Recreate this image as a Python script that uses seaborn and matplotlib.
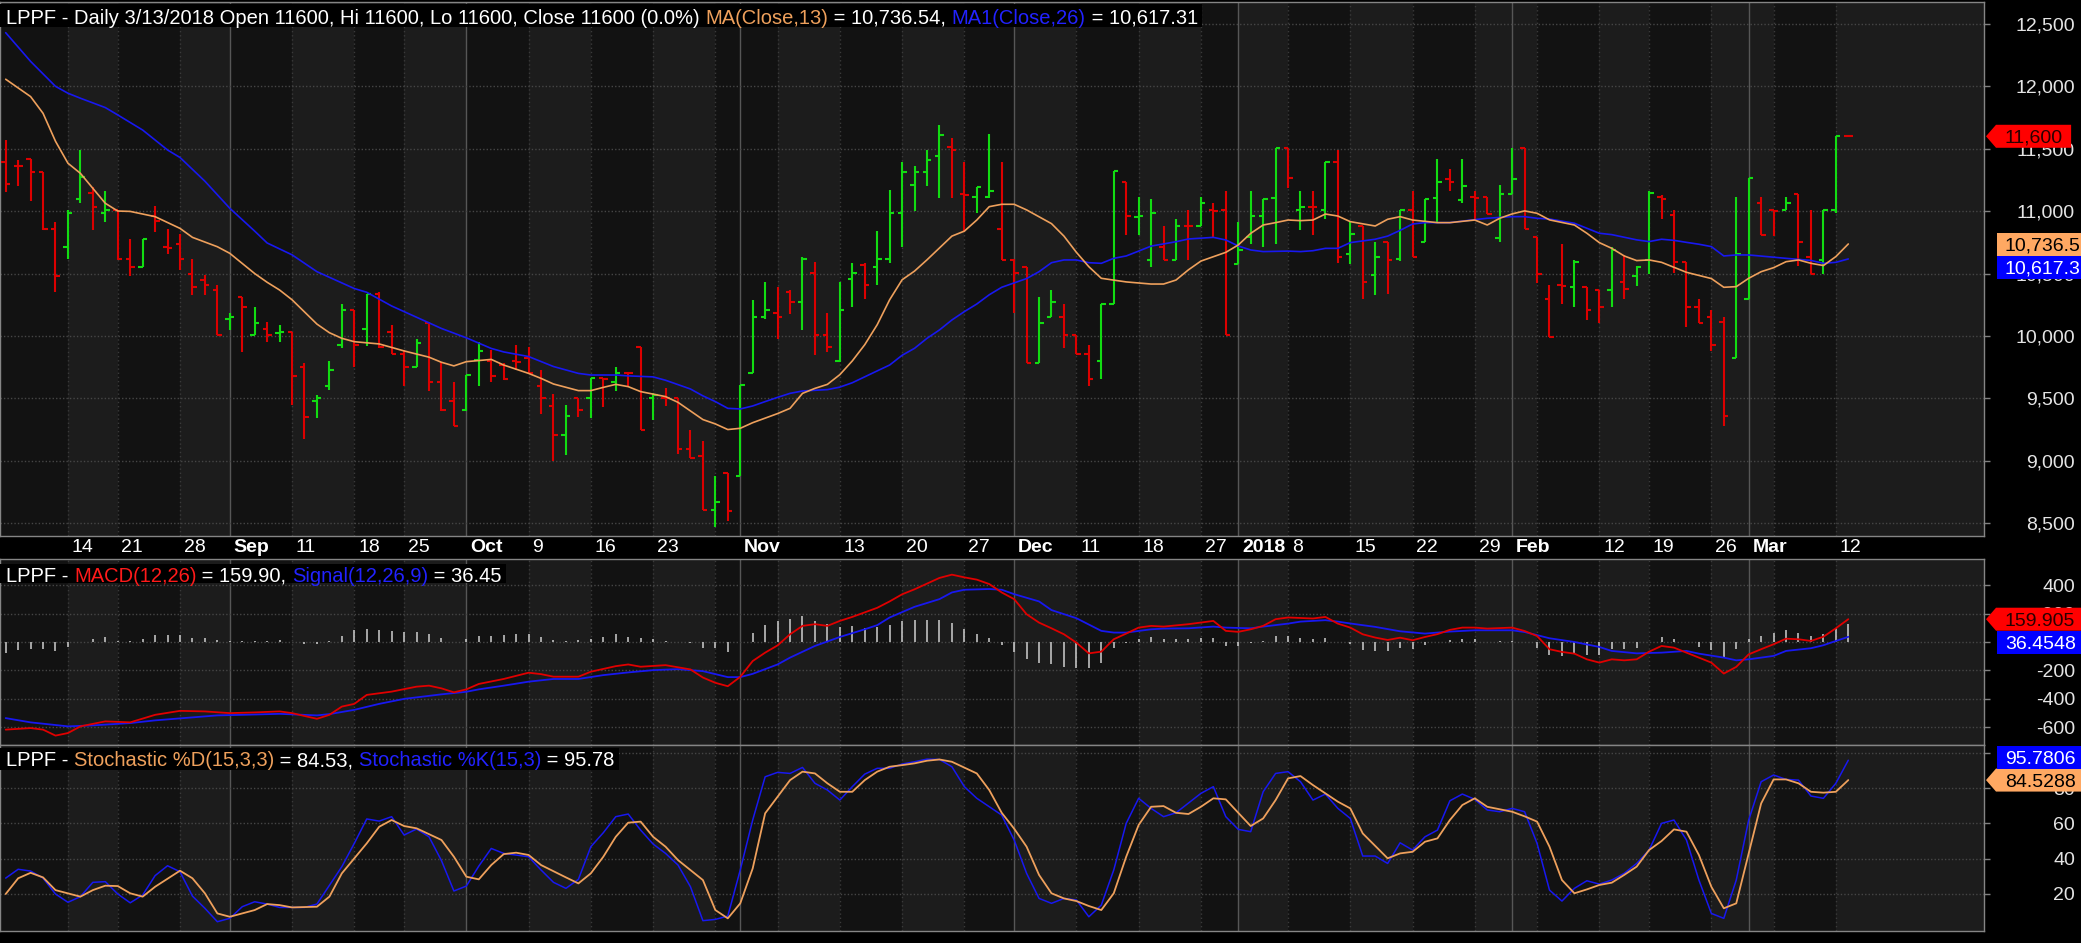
import matplotlib
matplotlib.use("Agg")
import matplotlib.pyplot as plt
import numpy as np
import pandas as pd
import seaborn as sns
from matplotlib.patches import Polygon, Rectangle
from matplotlib.ticker import FuncFormatter
from matplotlib.transforms import blended_transform_factory

# ---------------- data ----------------
holidays = pd.to_datetime(["2017-08-17", "2017-09-01", "2017-09-21", "2017-12-01",
                           "2017-12-25", "2017-12-26", "2018-01-01", "2018-02-16"])
dates = pd.bdate_range("2017-08-07", "2018-03-13")
dates = dates[~dates.isin(holidays)]

open_ = [11390, 11365, 11415, 11315, 10855, 10710, 11100, 11145, 10985, 11010,
         10615, 10555, 10965, 10710, 10735, 10500, 10450, 10365, 10135, 10310,
         10010, 10055, 10025, 10035, 9755, 9475, 9600, 9930, 10210, 10055,
         10335, 10035, 9855, 9755, 10105, 9630, 9475, 9405, 9805, 9800,
         9765, 9800, 9825, 9600, 9435, 9205, 9500, 9500, 9660, 9635,
         9705, 9910, 9500, 9505, 9500, 9095, 9035, 8605, 8900, 8875,
         9700, 10150, 10180, 10355, 10275, 10505, 10010, 9800, 10455, 10570,
         10555, 10615, 10985, 11210, 11315, 11440, 11515, 11135, 11110, 11110,
         10855, 10610, 10555, 9785, 10150, 10150, 10010, 9855, 9800, 10260,
         11235, 10955, 10610, 10715, 10610, 10885, 10885, 11010, 11010, 10580,
         10795, 10960, 11105, 11510, 11010, 11035, 11010, 11390, 10655, 10885,
         10485, 10750, 10620, 11010, 10755, 11105, 11260, 11090, 11110, 11110,
         10785, 11135, 11510, 10790, 10300, 10410, 10390, 10390, 10365, 10365,
         10435, 10480, 10610, 11115, 10970, 10590, 10235, 10155, 10115, 9825,
         10300, 11065, 11010, 11010, 11135, 10630, 10610, 11010, 11600]
high = [11570, 11410, 11415, 11315, 10915, 11010, 11490, 11195, 11165, 11010,
        10780, 10780, 11040, 10855, 10820, 10615, 10485, 10410, 10180, 10310,
        10235, 10110, 10085, 10035, 9780, 9525, 9800, 10260, 10210, 10335,
        10355, 10085, 9890, 9975, 10115, 9795, 9630, 9685, 9955, 9890,
        9780, 9930, 9915, 9725, 9535, 9445, 9500, 9660, 9660, 9755,
        9705, 9910, 9540, 9580, 9500, 9250, 9155, 8875, 8900, 9605,
        10285, 10435, 10390, 10365, 10630, 10590, 10180, 10435, 10585, 10585,
        10845, 11170, 11390, 11360, 11490, 11690, 11585, 11395, 11190, 11620,
        11390, 10615, 10555, 10310, 10365, 10260, 10010, 9930, 10260, 11325,
        11235, 11110, 11095, 10885, 10935, 11010, 11110, 11065, 11160, 10915,
        11160, 11095, 11510, 11510, 11165, 11165, 11395, 11490, 10910, 10885,
        10750, 10750, 11010, 11165, 11095, 11415, 11335, 11415, 11165, 11110,
        11210, 11510, 11510, 10790, 10410, 10740, 10610, 10390, 10365, 10710,
        10650, 10560, 11165, 11130, 11010, 10590, 10300, 10205, 10150, 11110,
        11265, 11110, 11010, 11110, 11135, 11010, 11010, 11600, 11600]
low = [11155, 11205, 11085, 10850, 10355, 10620, 11065, 10850, 10910, 10610,
       10480, 10555, 10835, 10655, 10530, 10330, 10330, 10010, 10050, 9875,
       10010, 9950, 9950, 9445, 9175, 9345, 9570, 9905, 9755, 9920,
       9905, 9855, 9595, 9755, 9560, 9400, 9275, 9400, 9600, 9630,
       9650, 9725, 9705, 9375, 8995, 9050, 9350, 9345, 9430, 9555,
       9595, 9245, 9325, 9435, 9055, 9020, 8605, 8470, 8520, 8875,
       9700, 10135, 9975, 10175, 10050, 9845, 9875, 9795, 10230, 10300,
       10405, 10585, 10710, 11005, 11200, 11105, 11105, 10835, 10985, 11105,
       10610, 10180, 9780, 9785, 10150, 9905, 9855, 9600, 9655, 10260,
       10810, 10810, 10555, 10610, 10610, 10610, 10885, 10790, 10010, 10580,
       10735, 10715, 10735, 11185, 10850, 10810, 10935, 10585, 10580, 10300,
       10330, 10340, 10600, 10630, 10755, 10910, 11165, 11065, 10925, 10980,
       10750, 11135, 10855, 10425, 9990, 10255, 10230, 10130, 10100, 10230,
       10300, 10400, 10500, 10935, 10505, 10075, 10105, 9880, 9275, 9825,
       10300, 10810, 10800, 11010, 10560, 10500, 10500, 10985, 11600]
close = [11215, 11360, 11315, 10855, 10480, 10985, 11270, 11035, 11010, 10615,
         10555, 10780, 10925, 10705, 10615, 10390, 10410, 10010, 10155, 10235,
         10105, 10010, 10035, 9680, 9350, 9500, 9725, 10210, 9930, 10335,
         9915, 9855, 9755, 9945, 9630, 9405, 9280, 9685, 9880, 9680,
         9655, 9795, 9705, 9500, 9205, 9355, 9405, 9660, 9655, 9705,
         9700, 9245, 9525, 9500, 9095, 9025, 8605, 8670, 8600, 9605,
         10150, 10210, 10150, 10275, 10615, 10010, 9910, 10210, 10505, 10405,
         10615, 10985, 11315, 11315, 11410, 11610, 11490, 11130, 11190, 11165,
         10610, 10505, 9785, 10105, 10275, 10010, 9855, 9655, 10260, 11325,
         10960, 10960, 10985, 10610, 10885, 10880, 11065, 11005, 10010, 10690,
         10960, 11095, 11510, 11265, 11035, 11030, 11390, 10630, 10815, 10435,
         10630, 10610, 11010, 10630, 11095, 11235, 11235, 11205, 11105, 10980,
         11135, 11260, 10855, 10500, 9990, 10400, 10590, 10210, 10235, 10690,
         10380, 10555, 11145, 11095, 10590, 10235, 10105, 9930, 9355, 10655,
         11265, 10810, 11005, 11065, 10755, 10500, 11010, 11600, 11600]

# moving averages as (bar, value) points
ma13 = [(0, 12057), (2, 11918), (3, 11784), (4, 11560), (5, 11384), (6, 11303), (8, 11063),
        (9, 11001), (10, 10998), (12, 10956), (14, 10862), (15, 10790), (17, 10715), (18, 10662),
        (20, 10500), (21, 10430), (22, 10368), (23, 10290), (25, 10095), (26, 10026), (27, 9981),
        (28, 9954), (30, 9936), (32, 9880), (34, 9830), (35, 9789), (36, 9760), (37, 9794),
        (39, 9812), (40, 9767), (42, 9700), (43, 9660), (44, 9615), (46, 9562), (47, 9562),
        (48, 9588), (49, 9612), (50, 9594), (51, 9554), (53, 9514), (54, 9468), (56, 9330),
        (57, 9295), (58, 9250), (59, 9260), (60, 9305), (62, 9378), (63, 9420), (64, 9540),
        (65, 9580), (66, 9612), (67, 9690), (68, 9800), (69, 9930), (70, 10090), (71, 10290),
        (72, 10450), (73, 10520), (74, 10610), (76, 10800), (77, 10840), (78, 10929), (79, 11036),
        (80, 11055), (81, 11055), (82, 11010), (84, 10900), (85, 10800), (86, 10670), (87, 10555),
        (88, 10462), (90, 10433), (92, 10416), (93, 10416), (94, 10448), (95, 10530), (96, 10600),
        (98, 10670), (99, 10729), (100, 10822), (101, 10889), (102, 10908), (103, 10929),
        (104, 10924), (105, 10929), (106, 10977), (107, 10961), (108, 10916), (110, 10881),
        (111, 10935), (112, 10956), (113, 10929), (115, 10908), (116, 10908), (118, 10929),
        (119, 10889), (120, 10943), (121, 10978), (122, 11002), (123, 10983), (124, 10930),
        (126, 10889), (127, 10823), (128, 10748), (129, 10702), (130, 10641), (131, 10604),
        (132, 10609), (133, 10590), (134, 10550), (135, 10510), (137, 10460), (138, 10390),
        (139, 10395), (140, 10462), (141, 10515), (142, 10547), (143, 10595), (144, 10609),
        (145, 10582), (146, 10564), (147, 10636), (148, 10737)]
ma26 = [(0, 12430), (2, 12200), (4, 12000), (5, 11945), (6, 11905), (8, 11830), (9, 11771),
        (11, 11650), (13, 11490), (14, 11430), (16, 11240), (18, 11023), (20, 10840), (21, 10745),
        (23, 10650), (25, 10515), (28, 10380), (29, 10350), (31, 10240), (34, 10105), (35, 10060),
        (37, 9985), (39, 9900), (40, 9872), (42, 9835), (44, 9755), (46, 9700), (47, 9687),
        (49, 9687), (50, 9680), (52, 9672), (53, 9645), (54, 9610), (55, 9575), (56, 9520),
        (57, 9474), (58, 9420), (59, 9415), (60, 9439), (61, 9474), (62, 9508), (63, 9540),
        (64, 9559), (66, 9570), (67, 9590), (68, 9625), (70, 9720), (71, 9767), (72, 9845),
        (73, 9901), (74, 9981), (75, 10048), (76, 10128), (77, 10195), (78, 10256), (79, 10330),
        (80, 10390), (82, 10460), (83, 10515), (84, 10587), (85, 10609), (86, 10609), (87, 10587),
        (88, 10582), (89, 10622), (90, 10641), (91, 10680), (92, 10720), (94, 10755), (95, 10777),
        (97, 10790), (98, 10769), (99, 10721), (100, 10689), (101, 10676), (103, 10680),
        (104, 10676), (105, 10683), (106, 10702), (107, 10702), (108, 10748), (110, 10775),
        (111, 10800), (112, 10846), (113, 10897), (114, 10908), (116, 10908), (118, 10932),
        (119, 10943), (120, 10950), (121, 10956), (122, 10956), (123, 10943), (124, 10937),
        (126, 10903), (127, 10863), (128, 10823), (129, 10812), (131, 10770), (132, 10756),
        (133, 10775), (134, 10766), (135, 10750), (136, 10735), (137, 10716), (138, 10641),
        (139, 10649), (140, 10649), (141, 10640), (143, 10622), (145, 10605), (146, 10582),
        (147, 10590), (148, 10617)]

macd = [(0, -616), (2, -605), (3, -616), (4, -658), (5, -640), (6, -593), (8, -558), (10, -565),
        (12, -512), (14, -484), (16, -488), (18, -500), (20, -495), (22, -488), (23, -500),
        (25, -540), (26, -512), (27, -454), (28, -435), (29, -372), (31, -349), (33, -314),
        (34, -307), (35, -326), (36, -354), (37, -333), (38, -295), (40, -260), (42, -216),
        (43, -226), (44, -244), (46, -244), (47, -209), (49, -170), (50, -158), (51, -174),
        (53, -163), (54, -178), (55, -193), (56, -250), (57, -287), (58, -311), (59, -245),
        (60, -134), (61, -75), (62, -24), (63, 54), (64, 113), (65, 125), (66, 113), (67, 148),
        (68, 176), (70, 240), (71, 285), (72, 335), (73, 370), (75, 450), (76, 473), (77, 454),
        (78, 438), (79, 407), (80, 348), (81, 301), (82, 195), (83, 136), (84, 96), (85, 54),
        (86, -5), (87, -80), (88, -68), (89, 19), (90, 59), (91, 101), (92, 113), (93, 108),
        (95, 125), (97, 148), (98, 78), (99, 71), (100, 89), (101, 113), (102, 160), (103, 172),
        (105, 165), (106, 176), (107, 129), (108, 101), (109, 54), (110, 31), (111, 14), (112, 30),
        (113, 12), (114, 35), (115, 55), (116, 85), (117, 101), (118, 101), (119, 94), (121, 101),
        (122, 77), (123, 42), (124, -51), (125, -70), (126, -82), (127, -122), (128, -145),
        (129, -122), (130, -129), (131, -122), (132, -68), (133, -28), (134, -40), (135, -75),
        (136, -110), (137, -145), (138, -222), (139, -175), (140, -87), (141, -51), (142, -16),
        (143, 23), (144, 19), (145, 7), (146, 37), (147, 96), (148, 160)]
signal = [(0, -535), (2, -565), (5, -593), (7, -586), (10, -570), (12, -551), (15, -530),
          (17, -516), (19, -512), (22, -505), (25, -516), (26, -507), (28, -477), (30, -435),
          (32, -400), (35, -368), (37, -350), (38, -333), (40, -307), (42, -279), (44, -260),
          (46, -260), (48, -233), (50, -214), (52, -198), (54, -191), (56, -205), (58, -247),
          (59, -247), (60, -224), (62, -158), (63, -110), (65, -28), (67, 35), (69, 89), (70, 118),
          (71, 172), (73, 247), (75, 301), (76, 348), (77, 367), (79, 372), (80, 367), (81, 336),
          (83, 285), (84, 224), (86, 167), (88, 78), (89, 66), (90, 66), (92, 89), (93, 94),
          (95, 96), (97, 108), (98, 101), (100, 96), (101, 108), (103, 129), (104, 143), (106, 153),
          (107, 143), (108, 130), (110, 106), (112, 75), (114, 59), (116, 73), (118, 82), (120, 82),
          (121, 82), (122, 70), (124, 26), (126, 0), (128, -35), (129, -63), (131, -80), (133, -75),
          (135, -63), (136, -82), (138, -110), (139, -129), (140, -122), (142, -98), (143, -63),
          (145, -44), (146, -23), (147, 7), (148, 36)]
macd_hist = [-81, -53, -47, -47, -63, -35, 0, 23, 35, 5, 5, 23, 47, 47, 47, 30, 30, 12, 5, 7,
             7, 7, 12, 0, -16, -12, 5, 40, 81, 93, 86, 74, 70, 70, 53, 30, 0, 23, 40, 42,
             51, 58, 53, 35, 12, 7, 12, 23, 35, 53, 35, 28, 23, 5, 0, -5, -40, -40, -68, 0,
             66, 120, 148, 160, 184, 148, 125, 106, 113, 101, 106, 120, 148, 153, 153, 153, 136, 89, 59, 26,
             -21, -68, -122, -146, -158, -174, -181, -186, -146, -45, -5, 19, 35, 19, 19, 19, 26, 26, -28, -28,
             -5, 7, 42, 42, 26, 19, 26, 0, -16, -59, -64, -64, -40, -51, -23, 0, 12, 23, 23, 0,
             7, 7, 0, -44, -91, -98, -82, -91, -91, -51, -51, -40, 0, 35, 19, 0, -35, -59, -105, -51,
             19, 42, 66, 82, 66, 42, 59, 101, 123]

stoch_k = [(0, 29), (1, 34), (2, 33), (3, 29), (4, 20), (5, 15.3), (6, 18.5), (7, 26.6), (8, 27),
           (9, 20), (10, 15), (11, 19.4), (12, 30.4), (13, 36), (14, 32.6), (15, 18.8), (16, 11.9),
           (17, 4.3), (18, 6.2), (19, 12.8), (20, 15.6), (21, 14.3), (22, 12.4), (23, 12.4),
           (24, 12.4), (25, 14.3), (27, 35.5), (28, 48.7), (29, 62.5), (30, 61.3), (31, 63.8),
           (32, 53.4), (33, 56.8), (34, 52.4), (35, 38.9), (36, 21.7), (37, 24.5), (38, 35.8),
           (39, 45.8), (40, 43), (42, 41.1), (43, 33.6), (44, 26.6), (45, 23.2), (46, 28.3),
           (47, 46.8), (48, 54.7), (49, 63.8), (50, 65.3), (51, 56.2), (52, 48.3), (53, 43),
           (54, 36.4), (55, 24.1), (56, 4.9), (57, 5.6), (58, 7.5), (59, 33.6), (60, 61.9),
           (61, 86.4), (62, 88.9), (63, 88.3), (64, 91.7), (65, 82.7), (66, 78.9), (67, 73.2),
           (68, 80.8), (69, 87.9), (70, 91.2), (71, 91.2), (72, 93.6), (73, 94.9), (74, 96.4),
           (75, 96.2), (76, 92.1), (77, 80.8), (78, 74.2), (80, 64.7), (81, 50.6), (82, 31.7),
           (83, 17.5), (84, 14.7), (85, 17.5), (86, 16.6), (87, 7.1), (88, 13.7), (89, 33.6),
           (90, 60), (91, 74.2), (92, 68.5), (93, 63.8), (94, 66), (96, 77), (97, 80.8), (98, 63.8),
           (99, 56.6), (100, 55.3), (101, 77.9), (102, 88.3), (103, 89.3), (104, 83.6), (105, 73.2),
           (106, 76.6), (107, 68.5), (108, 62.8), (109, 41.5), (110, 41.5), (111, 37.3), (112, 49),
           (113, 44.9), (114, 52.4), (115, 56.2), (116, 72.8), (117, 76.6), (118, 73.6), (119, 67.6),
           (120, 66.6), (121, 68.5), (122, 66.6), (123, 48.7), (124, 22.2), (125, 16), (126, 23.2),
           (127, 27.5), (128, 25.6), (129, 27.9), (130, 31.7), (131, 37.3), (132, 44.9), (133, 60),
           (134, 61.9), (135, 50.6), (136, 27.9), (137, 9), (138, 6.2), (139, 27.9), (140, 61.9),
           (141, 83.6), (142, 87.4), (143, 84.9), (144, 84.5), (145, 75.5), (146, 74.2), (147, 82.7),
           (148, 95.78)]
stoch_d = [(0, 20), (1, 28.9), (2, 32), (3, 29.4), (4, 22.2), (6, 18.5), (7, 22.2), (8, 24.7),
           (9, 24.5), (10, 20.4), (11, 18.5), (12, 24.1), (14, 33.2), (15, 28.9), (16, 20.4), (17, 9),
           (18, 7.1), (20, 10.9), (21, 14.3), (22, 13.7), (23, 12.4), (25, 12.8), (26, 18.5),
           (27, 31.7), (29, 48.7), (30, 58.1), (31, 61.9), (32, 58.5), (33, 57.2), (35, 50.6),
           (36, 41.1), (37, 29.8), (38, 28.3), (39, 36.4), (40, 42.6), (41, 43.4), (42, 42.1),
           (43, 36.4), (45, 29.4), (46, 26), (47, 31.7), (48, 41.1), (49, 52.4), (50, 60.4), (51, 61),
           (52, 52.4), (53, 46.8), (54, 39.2), (56, 27.9), (57, 10.9), (58, 6.2), (59, 14.7),
           (60, 34.5), (61, 65.7), (63, 84.5), (64, 89.3), (65, 88.3), (66, 82.7), (67, 77.9),
           (68, 77.9), (69, 84.5), (70, 89.3), (71, 92.1), (72, 93), (73, 94), (74, 95.5), (75, 96.2),
           (76, 94.9), (78, 88.3), (79, 78.9), (80, 66), (81, 57), (82, 46.8), (83, 30.8), (84, 20.4),
           (85, 17.5), (86, 16), (87, 13.2), (88, 10.9), (89, 20.4), (90, 41.1), (91, 59.1),
           (92, 69.4), (93, 69.8), (94, 66), (95, 65.3), (96, 69.4), (97, 74.2), (98, 73.6), (99, 66),
           (100, 58.5), (101, 62.8), (102, 73.2), (103, 85.5), (104, 86.8), (105, 81.7), (106, 77),
           (107, 72.3), (108, 68.5), (109, 54.3), (111, 40.2), (112, 43), (113, 43.9), (114, 49.6),
           (115, 51.5), (116, 61.9), (117, 70.4), (118, 74.2), (119, 69.4), (120, 68), (121, 66.6),
           (122, 64), (123, 61), (124, 46.8), (125, 27.9), (126, 20.4), (127, 22.6), (128, 25.1),
           (129, 26.4), (130, 30.8), (131, 35.5), (132, 44.9), (133, 50), (134, 56.6), (135, 55.3),
           (136, 42.1), (137, 24.1), (138, 11.9), (139, 14.7), (140, 43), (141, 71.3), (142, 84.9),
           (143, 84.9), (144, 82.7), (145, 77.9), (146, 77.4), (147, 77.9), (148, 84.53)]

label_dates = ["2017-08-14", "2017-08-21", "2017-08-28", "2017-09-04", "2017-09-11", "2017-09-18",
               "2017-09-25", "2017-10-02", "2017-10-09", "2017-10-16", "2017-10-23", "2017-11-01",
               "2017-11-13", "2017-11-20", "2017-11-27", "2017-12-04", "2017-12-11", "2017-12-18",
               "2017-12-27", "2018-01-02", "2018-01-08", "2018-01-15", "2018-01-22", "2018-01-29",
               "2018-02-01", "2018-02-12", "2018-02-19", "2018-02-26", "2018-03-01", "2018-03-12"]
label_text = ["14", "21", "28", "Sep", "11", "18", "25", "Oct", "9", "16", "23", "Nov", "13", "20",
              "27", "Dec", "11", "18", "27", "2018", "8", "15", "22", "29", "Feb", "12", "19", "26",
              "Mar", "12"]

price_ticks = [8500, 9000, 9500, 10000, 10500, 11000, 11500, 12000, 12500]
macd_ticks = [-600, -400, -200, 0, 200, 400]
stoch_ticks = [20, 40, 60, 80, 100]
hidden_ticks = [0, 100]   # labels fully covered by value tags in the original

# ---------------- style ----------------
sns.set_style("dark")
FONT = ["Liberation Sans", "DejaVu Sans"]
plt.rcParams["font.family"] = FONT

UP, DOWN = "#12dc12", "#dc0000"
ORANGE, BLUE, RED = "#eea05c", "#1818f0", "#e00000"
TXT_BLUE = "#2222ff"
BAND_DARK, BAND_LIGHT = "#121212", "#1c1c1c"
W, H = 2081, 943
PLOT_R = 1984
XL = (-5.7 / 12.45, (PLOT_R - 5.7) / 12.45)

fig = plt.figure(figsize=(W / 100, H / 100), dpi=100, facecolor="black")


def rect(y0, y1):
    return [0, 1 - y1 / H, PLOT_R / W, (y1 - y0) / H]


ax_p = fig.add_axes(rect(2, 536))
ax_m = fig.add_axes(rect(559, 745))
ax_s = fig.add_axes(rect(745, 931))

ax_p.set_ylim(8397, 12676)
ax_m.set_ylim(-724, 583)
ax_s.set_ylim(-0.96, 104.4)

n = len(dates)
idx = np.arange(n)
week = dates.isocalendar().week.values
week_start = [i for i in range(n) if i == 0 or week[i] != week[i - 1]]
month_start = [i for i in range(n) if i > 0 and dates[i].month != dates[i - 1].month]
bounds = [XL[0]] + week_start[1:] + [XL[1]]

for ax in (ax_p, ax_m, ax_s):
    ax.set_facecolor(BAND_DARK)
    ax.set_xlim(*XL)
    for k in range(len(bounds) - 1):
        ax.axvspan(bounds[k], bounds[k + 1], color=BAND_DARK if k % 2 == 0 else BAND_LIGHT,
                   lw=0, zorder=0)
    for i in sorted(set(week_start[1:]) | set(month_start)):
        if i in month_start:
            ax.axvline(i, color="#565656", lw=1, zorder=1)
        else:
            ax.axvline(i, color="#3a3a3a", lw=1, ls=(0, (1, 2)), zorder=1)
    for s in ax.spines.values():
        s.set_color("#858585")
        s.set_linewidth(1)
    ax.set_xticks(sorted(set(week_start[1:]) | set(month_start)))
    ax.tick_params(axis="x", labelbottom=False, length=0)
    ax.yaxis.set_ticks_position("right")
    ax.tick_params(axis="y", direction="out", length=4.5, width=1, color="#808080",
                   labelcolor="#e4e4e4", labelsize=14, pad=61, left=False, labelleft=False,
                   right=True, labelright=True)
    ax.grid(False)

ax_p.tick_params(axis="x", length=4, color="#808080", direction="out")

ax_p.set_yticks(price_ticks)
ax_p.yaxis.set_major_formatter(FuncFormatter(lambda v, p: f"{int(v):,}"))
ax_m.set_yticks(macd_ticks)
ax_s.set_yticks(stoch_ticks)
for ax in (ax_m, ax_s):
    ax.yaxis.set_major_formatter(
        FuncFormatter(lambda v, p: "" if int(round(v)) in hidden_ticks else f"{int(round(v))}"))
for ax, ticks in ((ax_p, price_ticks), (ax_m, macd_ticks), (ax_s, stoch_ticks)):
    for t in ticks:
        ax.axhline(t, color="#464646", lw=1, ls=(0, (1, 1.5)), zorder=1)
    for lbl in ax.get_yticklabels():
        lbl.set_horizontalalignment("right")

# ---------------- price bars ----------------
cols = [UP if c > o else DOWN for o, c in zip(open_, close)]
ax_p.vlines(idx, low, high, colors=cols, lw=1.5, zorder=3)
ax_p.hlines(open_, idx - 0.36, idx, colors=cols, lw=1.5, zorder=3)
ax_p.hlines(close, idx, idx + 0.36, colors=cols, lw=1.5, zorder=3)


def draw_line(ax, pts, color, lw):
    x, y = zip(*pts)
    sns.lineplot(x=list(x), y=list(y), ax=ax, color=color, lw=lw, sort=False,
                 estimator=None, legend=False, zorder=4)


draw_line(ax_p, ma26, BLUE, 1.2)
draw_line(ax_p, ma13, ORANGE, 1.2)

# ---------------- MACD ----------------
ax_m.vlines(idx, 0, macd_hist, colors="#cfcfcf", lw=1.1, zorder=3)
draw_line(ax_m, signal, BLUE, 1.3)
draw_line(ax_m, macd, RED, 1.3)

# ---------------- Stochastic ----------------
draw_line(ax_s, stoch_k, BLUE, 1.1)
draw_line(ax_s, stoch_d, ORANGE, 1.3)

for ax in (ax_p, ax_m, ax_s):
    ax.set_xlabel("")
    ax.set_ylabel("")

# date labels in the strip under the price panel
tr = blended_transform_factory(ax_p.transData, ax_p.transAxes)
for d, t in zip(label_dates, label_text):
    i = dates.get_loc(pd.Timestamp(d))
    bold = not t.isdigit() or t == "2018"
    ax_p.text(i + 0.3, -12 / 534, t, transform=tr, color="white", fontsize=14,
              fontweight="bold" if bold else "normal", ha="left", va="center", clip_on=False)

# ---------------- overlay texts ----------------
renderer = fig.canvas.get_renderer()


def text_width(s, size):
    t = fig.text(0, 0, s + "|", fontsize=size)
    w1 = t.get_window_extent(renderer).width
    t.set_text("|")
    w2 = t.get_window_extent(renderer).width
    t.remove()
    return w1 - w2


def title(segments, x0, yc, box, size=14.5):
    full = "".join(s for s, _ in segments)
    wtot = text_width(full, size)
    fig.patches.append(Rectangle((0, 1 - box[1] / H), (x0 + wtot + 4) / W, (box[1] - box[0]) / H,
                                 transform=fig.transFigure, facecolor="black", lw=0, zorder=5))
    acc = ""
    for s, c in segments:
        x = x0 + text_width(acc, size)
        fig.text(x / W, 1 - yc / H, s, color=c, fontsize=size, ha="left", va="center_baseline",
                 zorder=6)
        acc += s


W_ = "white"
title([("LPPF - Daily 3/13/2018 Open 11600, Hi 11600, Lo 11600, Close 11600 (0.0%) ", W_),
       ("MA(Close,13)", ORANGE), (" = 10,736.54, ", W_), ("MA1(Close,26)", TXT_BLUE),
       (" = 10,617.31", W_)], 6, 16, (4, 27))
title([("LPPF - ", W_), ("MACD(12,26)", "#ff1a1a"), (" = 159.90, ", W_),
       ("Signal(12,26,9)", TXT_BLUE), (" = 36.45", W_)], 6, 574, (564, 583))
title([("LPPF - ", W_), ("Stochastic %D(15,3,3)", ORANGE), (" = 84.53, ", W_),
       ("Stochastic %K(15,3)", TXT_BLUE), (" = 95.78", W_)], 6, 759, (748, 770))


def ypix(ax, v):
    return H - ax.transData.transform((0, v))[1]


def tag(yc, label, face, tcolor, arrow):
    h = 23
    tw = text_width(label, 14)
    xr = 2005 + tw + 8
    if arrow:
        pts = [(1986, yc), (1996, yc - h / 2), (xr, yc - h / 2), (xr, yc + h / 2), (1996, yc + h / 2)]
    else:
        pts = [(1997, yc - h / 2), (xr, yc - h / 2), (xr, yc + h / 2), (1997, yc + h / 2)]
    pts = [(x / W, 1 - y / H) for x, y in pts]
    fig.patches.append(Polygon(pts, closed=True, transform=fig.transFigure, facecolor=face,
                               lw=0, zorder=7))
    fig.text(2005 / W, 1 - yc / H, label, color=tcolor, fontsize=14, ha="left",
             va="center_baseline", zorder=8)


def pair(ax, v_fixed, v_move):
    yf, ym = ypix(ax, v_fixed), ypix(ax, v_move)
    if abs(ym - yf) < 23:
        ym = yf + 23 if ym >= yf else yf - 23
    return yf, ym


tag(ypix(ax_p, 11600), "11,600", "#ff0000", "#2a0000", True)
y1, y2 = pair(ax_p, 10736.54, 10617.31)
tag(y1, "10,736.5", "#ffa862", "black", False)
tag(y2, "10,617.3", "#0000ff", "white", False)
y1, y2 = pair(ax_m, 159.905, 36.4548)
tag(y1, "159.905", "#ff0000", "#2a0000", True)
tag(y2, "36.4548", "#0000ff", "white", False)
y1, y2 = pair(ax_s, 84.5288, 95.7806)
tag(y1, "84.5288", "#ffa862", "black", True)
tag(y2, "95.7806", "#0000ff", "white", False)

fig.savefig("out.png", dpi=100, facecolor="black")
